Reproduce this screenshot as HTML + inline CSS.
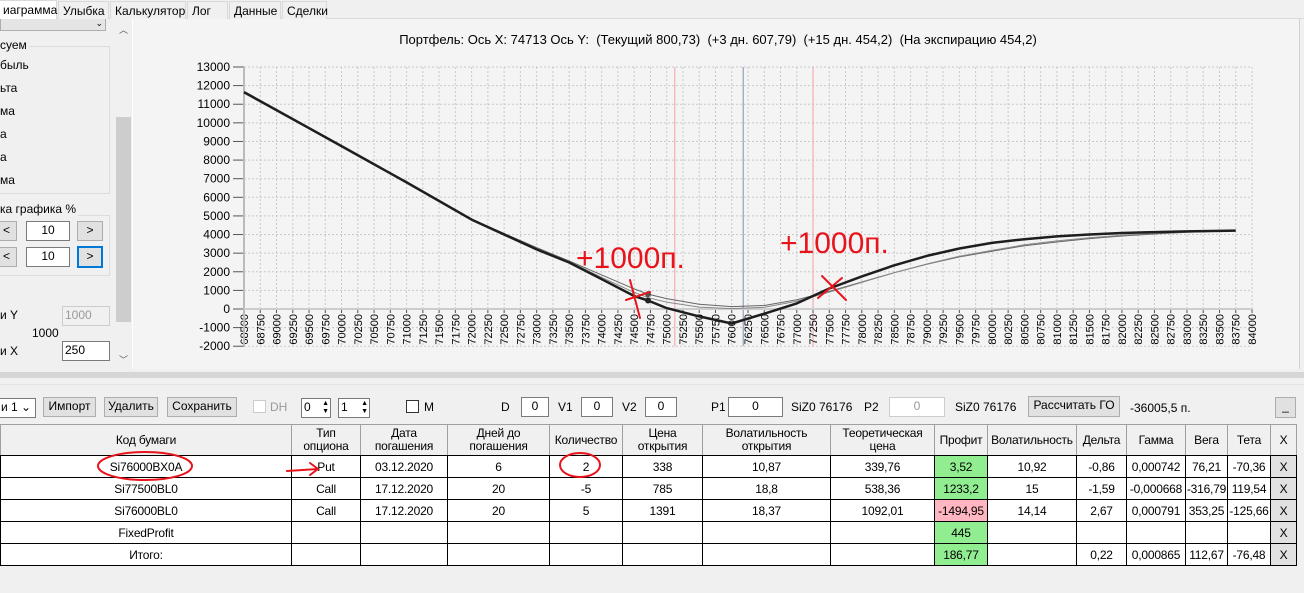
<!DOCTYPE html>
<html><head><meta charset="utf-8">
<style>
*{box-sizing:border-box}
body{margin:0;width:1304px;height:593px;overflow:hidden;background:#f0f0f0;font-family:"Liberation Sans","Noto Sans CJK SC",sans-serif;font-size:12px;color:#000;position:relative}
.a{position:absolute}
.tab{position:absolute;top:1px;height:18px;border:1px solid #d9d9d9;border-bottom:none;background:#f0f0f0;font-size:12px;padding:2px 4px;white-space:nowrap}
.btn{position:absolute;background:#e1e1e1;border:1px solid #adadad;text-align:center;font-size:12px;line-height:17px;white-space:nowrap}
.tb{position:absolute;background:#fff;border:1px solid #7a7a7a;text-align:center;font-size:12px;line-height:17px}
.lbl{position:absolute;font-size:12px;white-space:nowrap}
table{position:absolute;left:0;top:424px;border-collapse:collapse;table-layout:fixed;width:1296px;font-size:12px;font-family:"Liberation Sans",sans-serif;letter-spacing:-0.2px}
td,th{border:1px solid #000;text-align:center;padding:0;overflow:hidden;white-space:nowrap}
th{font-weight:normal;background:#f0f0f0;height:31px;line-height:13px;border-color:#a0a0a0;border-bottom:1px solid #000}
td{height:22px;background:#fff}
td.g{background:#90ee90}td.p{background:#ffb6c1}td.x{background:#e1e1e1}
</style></head><body>
<div class="a" style="left:0;top:0;width:1304px;height:19px;background:#f0f0f0;border-bottom:1px solid #d9d9d9"></div>
<div class="tab" style="left:-2px;width:59px;background:#fff;top:0;height:20px">иаграмма</div>
<div class="tab" style="left:58px;width:51px">Улыбка</div>
<div class="tab" style="left:110px;width:76px">Калькулятор</div>
<div class="tab" style="left:187px;width:41px">Лог</div>
<div class="tab" style="left:229px;width:52px">Данные</div>
<div class="tab" style="left:282px;width:45px">Сделки</div>

<div class="a" style="left:0;top:19px;width:1300px;height:350px;background:#fff;border-right:1px solid #d0d0d0"></div>
<div class="a" style="left:0;top:19px;width:115px;height:350px;background:#f0f0f0"></div>
<div class="a" style="left:0;top:19px;width:106px;height:12px;background:#e5e5e5;border:1px solid #adadad;border-top:none;font-size:9px;text-align:right;padding-right:2px;line-height:8px">⌄</div>
<div class="a" style="left:-2px;top:46px;width:112px;height:148px;border:1px solid #dcdcdc"></div>
<div class="lbl" style="left:0;top:38px;background:#f0f0f0;padding-right:2px">суем</div>
<div class="lbl" style="left:0;top:58px">быль</div>
<div class="lbl" style="left:0;top:81px">ьта</div>
<div class="lbl" style="left:0;top:104px">ма</div>
<div class="lbl" style="left:0;top:127px">а</div>
<div class="lbl" style="left:0;top:150px">а</div>
<div class="lbl" style="left:0;top:173px">ма</div>
<div class="a" style="left:-2px;top:215px;width:112px;height:61px;border:1px solid #dcdcdc"></div>
<div class="lbl" style="left:0;top:202px;background:#f0f0f0;padding-right:2px">ка графика %</div>
<div class="btn" style="left:-4px;top:221px;width:21px;height:20px">&lt;</div>
<div class="tb" style="left:26px;top:221px;width:44px;height:20px">10</div>
<div class="btn" style="left:77px;top:221px;width:26px;height:20px">&gt;</div>
<div class="btn" style="left:-4px;top:247px;width:21px;height:20px">&lt;</div>
<div class="tb" style="left:26px;top:247px;width:44px;height:20px">10</div>
<div class="btn" style="left:77px;top:246px;width:26px;height:22px;border:2px solid #0078d7">&gt;</div>
<div class="lbl" style="left:0;top:308px">и Y</div>
<div class="tb" style="left:62px;top:306px;width:48px;height:20px;background:#f0f0f0;border-color:#ccc;color:#999;text-align:left;padding-left:2px">1000</div>
<div class="lbl" style="left:32px;top:326px">1000</div>
<div class="lbl" style="left:0;top:344px">и X</div>
<div class="tb" style="left:62px;top:341px;width:48px;height:20px;text-align:left;padding-left:2px">250</div>
<div class="a" style="left:115px;top:19px;width:17px;height:350px;background:#f0f0f0;font-size:9px;text-align:center;color:#555">
<div style="position:absolute;top:4px;width:17px">︿</div>
<div style="position:absolute;top:98px;left:1px;width:15px;height:205px;background:#cdcdcd"></div>
<div style="position:absolute;top:334px;width:17px">﹀</div></div>
<div class="a" style="left:133px;top:19px;width:1166px;height:350px;background:#f4f4f4"></div>

<svg class="a" style="left:0;top:0" width="1304" height="380">
<text x="718" y="44" text-anchor="middle" font-size="13" font-family="Liberation Sans" style="white-space:pre" xml:space="preserve">Портфель: Ось X: 74713 Ось Y:  (Текущий 800,73)  (+3 дн. 607,79)  (+15 дн. 454,2)  (На экспирацию 454,2)</text>
<g id="grid"></g><g id="axes"></g><g id="series"></g>
</svg>

<div class="a" style="left:0;top:372px;width:1304px;height:6px;background:#d6d6d6"></div>
<div class="a" style="left:0;top:384px;width:1304px;height:1px;background:#e3e3e3"></div>

<div class="btn" style="left:-2px;top:398px;width:38px;height:20px;background:#fff;border-color:#7a7a7a;text-align:left;padding-left:2px">и 1 ⌄</div>
<div class="btn" style="left:43px;top:397px;width:53px;height:20px">Импорт</div>
<div class="btn" style="left:104px;top:397px;width:54px;height:20px">Удалить</div>
<div class="btn" style="left:167px;top:397px;width:70px;height:20px">Сохранить</div>
<div class="a" style="left:253px;top:400px;width:13px;height:13px;border:1px solid #ccc;background:#fff"></div>
<div class="lbl" style="left:270px;top:400px;color:#999">DH</div>
<div class="tb" style="left:301px;top:398px;width:30px;height:20px;text-align:left;padding-left:2px">0<span style="position:absolute;right:1px;top:1px;font-size:7px;line-height:8px">▲<br>▼</span></div>
<div class="tb" style="left:338px;top:398px;width:32px;height:20px;text-align:left;padding-left:2px">1<span style="position:absolute;right:1px;top:1px;font-size:7px;line-height:8px">▲<br>▼</span></div>
<div class="a" style="left:406px;top:400px;width:13px;height:13px;border:1px solid #333;background:#fff"></div>
<div class="lbl" style="left:424px;top:400px">M</div>
<div class="lbl" style="left:501px;top:400px">D</div>
<div class="tb" style="left:521px;top:397px;width:28px;height:20px">0</div>
<div class="lbl" style="left:558px;top:400px">V1</div>
<div class="tb" style="left:581px;top:397px;width:32px;height:20px">0</div>
<div class="lbl" style="left:622px;top:400px">V2</div>
<div class="tb" style="left:645px;top:397px;width:32px;height:20px">0</div>
<div class="lbl" style="left:711px;top:400px">P1</div>
<div class="tb" style="left:728px;top:397px;width:55px;height:20px">0</div>
<div class="lbl" style="left:791px;top:400px">SiZ0 76176</div>
<div class="lbl" style="left:864px;top:400px">P2</div>
<div class="tb" style="left:889px;top:397px;width:56px;height:20px;border-color:#ccc;color:#999">0</div>
<div class="lbl" style="left:955px;top:400px">SiZ0 76176</div>
<div class="btn" style="left:1028px;top:396px;width:92px;height:21px">Рассчитать ГО</div>
<div class="lbl" style="left:1130px;top:401px">-36005,5 п.</div>
<div class="btn" style="left:1275px;top:397px;width:21px;height:21px">_</div>

<table>
<colgroup><col style="width:291px"><col style="width:69px"><col style="width:87px"><col style="width:102px"><col style="width:73px"><col style="width:80px"><col style="width:128px"><col style="width:104px"><col style="width:53px"><col style="width:89px"><col style="width:50px"><col style="width:59px"><col style="width:42px"><col style="width:43px"><col style="width:26px"></colgroup>
<tr><th>Код бумаги</th><th>Тип<br>опциона</th><th>Дата<br>погашения</th><th>Дней до<br>погашения</th><th>Количество</th><th>Цена<br>открытия</th><th>Волатильность<br>открытия</th><th>Теоретическая<br>цена</th><th>Профит</th><th>Волатильность</th><th>Дельта</th><th>Гамма</th><th>Вега</th><th>Тета</th><th>X</th></tr>
<tr><td>Si76000BX0A</td><td>Put</td><td>03.12.2020</td><td>6</td><td>2</td><td>338</td><td>10,87</td><td>339,76</td><td class="g">3,52</td><td>10,92</td><td>-0,86</td><td>0,000742</td><td>76,21</td><td>-70,36</td><td class="x">X</td></tr>
<tr><td>Si77500BL0</td><td>Call</td><td>17.12.2020</td><td>20</td><td>-5</td><td>785</td><td>18,8</td><td>538,36</td><td class="g">1233,2</td><td>15</td><td>-1,59</td><td>-0,000668</td><td>-316,79</td><td>119,54</td><td class="x">X</td></tr>
<tr><td>Si76000BL0</td><td>Call</td><td>17.12.2020</td><td>20</td><td>5</td><td>1391</td><td>18,37</td><td>1092,01</td><td class="p">-1494,95</td><td>14,14</td><td>2,67</td><td>0,000791</td><td>353,25</td><td>-125,66</td><td class="x">X</td></tr>
<tr><td>FixedProfit</td><td></td><td></td><td></td><td></td><td></td><td></td><td></td><td class="g">445</td><td></td><td></td><td></td><td></td><td></td><td class="x">X</td></tr>
<tr><td>Итого:</td><td></td><td></td><td></td><td></td><td></td><td></td><td></td><td class="g">186,77</td><td></td><td>0,22</td><td>0,000865</td><td>112,67</td><td>-76,48</td><td class="x">X</td></tr>
</table>

<svg class="a" style="left:0;top:0;pointer-events:none" width="1304" height="593">
<g fill="none" stroke="#e8141c" stroke-width="2" stroke-linecap="round">
<ellipse cx="145" cy="466" rx="47" ry="14"/>
<ellipse cx="580" cy="465" rx="20" ry="12"/>
<path d="M287 471 L318 469 M310 463 L318 469 L310 475"/>
<path d="M630 280 L640 318 M626 300 L650 292"/>
<path d="M822 276 L846 300 M818 298 L842 278"/>
</g>
<text x="576" y="268" fill="#e8141c" font-size="30" font-family="Liberation Sans">+1000п.</text>
<text x="780" y="253" fill="#e8141c" font-size="30" font-family="Liberation Sans">+1000п.</text>
</svg>

<script>
const xs      = [68500,70000,71000,72000,73000,73500,74000,74500,74713,75000,75500,76000,76500,77000,77500,78000,78500,79000,79500,80000,80500,81000,81500,82000,82500,83000,83750];
const expVals = [11650,8750,6800,4800,3200,2500,1600,700,454,50,-400,-780,-250,300,1100,1750,2350,2850,3250,3550,3750,3900,4000,4080,4130,4170,4210];
const curVals = [11600,8750,6800,4820,3300,2580,1830,1080,800,560,260,130,190,500,950,1450,1950,2400,2800,3100,3400,3600,3780,3920,4030,4120,4200];
const d3Vals  = [11620,8750,6800,4810,3250,2540,1700,890,607,370,100,20,90,420,900,1430,1950,2420,2830,3150,3450,3660,3830,3960,4060,4140,4210];
const yTicks  = [-2000,-1000,0,1000,2000,3000,4000,5000,6000,7000,8000,9000,10000,11000,12000,13000];
const xMin=68500,xMax=84000,xStep=250;
const vLines  = [75125,76176,77250];
const cursorX = 74713;
const NS="http://www.w3.org/2000/svg";
const X=v=>244+(v-xMin)/(xMax-xMin)*1008;
const Y=v=>309-v*(242/13000);
function mk(t,a,p){const e=document.createElementNS(NS,t);for(const k in a)e.setAttribute(k,a[k]);p.appendChild(e);return e;}
const grid=document.getElementById('grid'),axes=document.getElementById('axes'),ser=document.getElementById('series');
for(const v of yTicks){
  const l=mk('line',{x1:244,x2:1252,y1:Y(v),y2:Y(v),stroke:'#c8c8c8','stroke-dasharray':'2,2'},grid);
  
  
  mk('line',{x1:233,x2:244,y1:Y(v),y2:Y(v),stroke:'#555'},axes);
  const t=mk('text',{x:230,y:Y(v)+4,'text-anchor':'end','font-size':12,'font-family':'Liberation Sans'},axes);
  t.textContent=v;
  
  
}
for(let v=xMin;v<=xMax;v+=xStep){
  const l=mk('line',{x1:X(v),x2:X(v),y1:Y(13000),y2:Y(-2000),stroke:'#c8c8c8','stroke-dasharray':'2,2'},grid);
  
  
  mk('line',{x1:X(v),x2:X(v),y1:Y(0),y2:Y(0)+4,stroke:'#555'},axes);
  const t=mk('text',{x:0,y:0,'text-anchor':'end','font-size':11,'font-family':'Liberation Sans',transform:`translate(${X(v)+4},${Y(0)+5}) rotate(-90)`},axes);
  t.textContent=v;
  
  
}
const ax1=mk('line',{x1:244,x2:244,y1:Y(13000),y2:Y(-2000),stroke:'#bbb','stroke-width':2},axes);


const ax2=mk('line',{x1:244,x2:1252,y1:Y(0),y2:Y(0),stroke:'#ccc','stroke-width':2},axes);


vLines.forEach((v,i)=>{
  const l=mk('line',{x1:X(v),x2:X(v),y1:Y(13000),y2:Y(-2000),stroke:i==1?'#8090b0':'#f4a0a8','stroke-width':1},grid);
  
  
});
function pts(vals){return xs.map((x,i)=>X(x).toFixed(1)+','+Y(vals[i]).toFixed(1)).join(' ');}
const s1=mk('polyline',{points:pts(curVals),fill:'none',stroke:'#666','stroke-width':1},ser);


const s2=mk('polyline',{points:pts(d3Vals),fill:'none',stroke:'#888','stroke-width':1},ser);


const s3=mk('polyline',{points:pts(expVals),fill:'none',stroke:'#1e1e1e','stroke-width':2.5,'stroke-linejoin':'round'},ser);


const ci=xs.indexOf(cursorX);
const m1=mk('circle',{cx:X(cursorX),cy:Y(curVals[ci]),r:3,fill:'#555'},ser);


const m2=mk('circle',{cx:X(cursorX),cy:Y(expVals[ci]),r:3,fill:'#222'},ser);


</script>
</body></html>
